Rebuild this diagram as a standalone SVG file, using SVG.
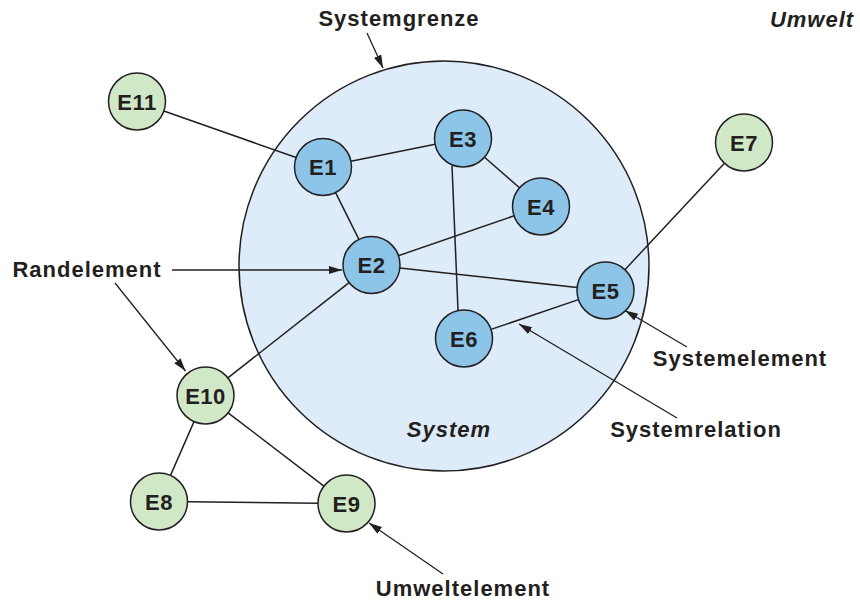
<svg xmlns="http://www.w3.org/2000/svg" width="860" height="604" viewBox="0 0 860 604">
<defs>
<style>
.lbl{font-family:"Liberation Sans",Arial,sans-serif;font-weight:bold;font-size:22px;letter-spacing:1px;fill:#231F20;text-anchor:middle}
.it{font-style:italic}
.nt{font-family:"Liberation Sans",Arial,sans-serif;font-weight:bold;font-size:22px;letter-spacing:0.5px;fill:#231F20;text-anchor:middle}
.sys{fill:#8CC5E8;stroke:#231F20;stroke-width:1.5}
.env{fill:#D0E8C6;stroke:#231F20;stroke-width:1.5}
.edge{stroke:#231F20;stroke-width:1.5;fill:none}
.ann{stroke:#231F20;stroke-width:1.3;fill:none;marker-end:url(#ah)}
</style>
<marker id="ah" markerUnits="userSpaceOnUse" markerWidth="14" markerHeight="10" refX="13" refY="4" orient="auto">
<path d="M0,0 L13,4 L0,8 Z" fill="#231F20"/>
</marker>
</defs>
<rect width="860" height="604" fill="#FFFFFF"/>
<g id="systemgrenze">
<circle cx="444" cy="266" r="205" fill="#DDECF8" stroke="#231F20" stroke-width="1.5"/>
</g>
<g id="connectors">
<line class="edge" x1="163.9" y1="111.0" x2="296.1" y2="157.5"/>
<line class="edge" x1="350.9" y1="161.3" x2="435.1" y2="144.2"/>
<line class="edge" x1="335.6" y1="192.6" x2="358.9" y2="239.4"/>
<line class="edge" x1="484.5" y1="157.2" x2="519.5" y2="187.8"/>
<line class="edge" x1="398.4" y1="255.7" x2="514.1" y2="215.8"/>
<line class="edge" x1="399.8" y1="268.1" x2="577.2" y2="287.4"/>
<line class="edge" x1="578.5" y1="299.6" x2="491.0" y2="329.4"/>
<line class="edge" x1="624.9" y1="269.7" x2="724.4" y2="163.3"/>
<line class="edge" x1="349.1" y1="282.6" x2="227.9" y2="377.9"/>
<line class="edge" x1="194.0" y1="421.6" x2="170.5" y2="475.4"/>
<line class="edge" x1="228.1" y1="412.8" x2="323.9" y2="486.2"/>
<line class="edge" x1="187.5" y1="501.8" x2="318" y2="503.2"/>
<line class="edge" x1="452" y1="166" x2="458" y2="310"/>
</g>
<g id="annotations">
<line class="ann" x1="367" y1="33" x2="383" y2="68"/>
<line class="ann" x1="172" y1="270" x2="342" y2="270"/>
<line class="ann" x1="115" y1="283" x2="185.5" y2="371"/>
<line class="ann" x1="687" y1="347" x2="625" y2="310.5"/>
<line class="ann" x1="677" y1="418" x2="519" y2="324"/>
<line class="ann" x1="443" y1="574" x2="369" y2="523"/>
</g>
<g id="E1"><circle class="sys" cx="323" cy="167" r="28.5"/><text class="nt" x="323" y="175">E1</text></g>
<g id="E2"><circle class="sys" cx="371.5" cy="265" r="28.5"/><text class="nt" x="371.5" y="273">E2</text></g>
<g id="E3"><circle class="sys" cx="463" cy="138.5" r="28.5"/><text class="nt" x="463" y="146.5">E3</text></g>
<g id="E4"><circle class="sys" cx="541" cy="206.5" r="28.5"/><text class="nt" x="541" y="214.5">E4</text></g>
<g id="E5"><circle class="sys" cx="605.5" cy="290.5" r="28.5"/><text class="nt" x="605.5" y="298.5">E5</text></g>
<g id="E6"><circle class="sys" cx="464" cy="338.5" r="28.5"/><text class="nt" x="464" y="346.5">E6</text></g>
<g id="E7"><circle class="env" cx="744" cy="142.5" r="28.5"/><text class="nt" x="744" y="150.5">E7</text></g>
<g id="E8"><circle class="env" cx="159" cy="501.5" r="28.5"/><text class="nt" x="159" y="509.5">E8</text></g>
<g id="E9"><circle class="env" cx="346.5" cy="503.5" r="28.5"/><text class="nt" x="346.5" y="511.5">E9</text></g>
<g id="E10"><circle class="env" cx="205.5" cy="395.5" r="28.5"/><text class="nt" x="205.5" y="403.5">E10</text></g>
<g id="E11"><circle class="env" cx="137" cy="101.5" r="28.5"/><text class="nt" x="137" y="109.5">E11</text></g>
<g id="labels">
<text class="lbl" x="399" y="26">Systemgrenze</text>
<text class="lbl it" x="812" y="27">Umwelt</text>
<text class="lbl" x="87" y="277">Randelement</text>
<text class="lbl" x="740" y="366">Systemelement</text>
<text class="lbl" x="696" y="437">Systemrelation</text>
<text class="lbl it" x="449" y="437">System</text>
<text class="lbl" x="463" y="596">Umweltelement</text>
</g>
</svg>
